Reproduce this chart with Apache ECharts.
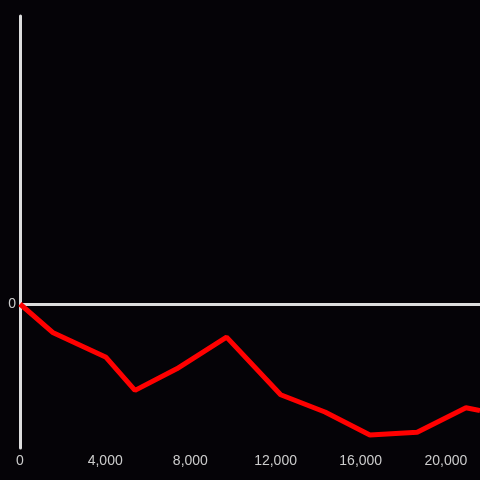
<!DOCTYPE html>
<html><head><meta charset="utf-8">
<script src="https://cdn.jsdelivr.net/npm/echarts@6/dist/echarts.min.js"></script>
<style>html,body{margin:0;padding:0;background:#050307;}#c{width:480px;height:480px;}</style>
</head><body><div id="c"></div>
<script>
var xValues = [0, 1560, 4040, 5400, 7360, 9700, 12240, 14320, 16430, 18650, 20940, 21600];
var yValues = [0, -20, -37, -60, -45, -23, -63, -75, -91, -89, -72, -74];
var xTicks = [0, 4000, 8000, 12000, 16000, 20000];

var data = xValues.map(function(x, i){ return [x, yValues[i]]; });
var chart = echarts.init(document.getElementById('c'), null, {renderer:'canvas'});
chart.setOption({
  backgroundColor: '#050307',
  animation: false,
  grid: {left: 20, right: 0, top: 16, bottom: 32, containLabel: false},
  xAxis: {
    type: 'value', min: 0, max: 21600, interval: 4000,
    axisLine: {show: false, onZero: false},
    axisTick: {show: false},
    splitLine: {show: false},
    axisLabel: {color: '#cccccc', fontSize: 14, fontFamily: 'Liberation Sans, Arial, sans-serif', margin: 6,
      showMaxLabel: false,
      formatter: function(v){ return xTicks.indexOf(v) >= 0 ? v.toLocaleString('en-US') : ''; }}
  },
  yAxis: {
    type: 'value', min: -100, max: 200, interval: 100,
    axisLine: {show: true, onZero: false, lineStyle: {color: '#dddddd', width: 3}},
    axisTick: {show: false},
    splitLine: {show: false},
    axisLabel: {color: '#cccccc', fontSize: 14, fontFamily: 'Liberation Sans, Arial, sans-serif', margin: 4,
      formatter: function(v){ return v === 0 ? '0' : ''; }}
  },
  series: [{
    type: 'line', data: data, symbol: 'none',
    lineStyle: {color: '#ff0000', width: 5},
    z: 3,
    markLine: {
      silent: true, symbol: 'none', label: {show: false},
      lineStyle: {color: '#dddddd', width: 3, type: 'solid'},
      data: [{yAxis: 0}],
      z: 2
    }
  }]
});
</script></body></html>
